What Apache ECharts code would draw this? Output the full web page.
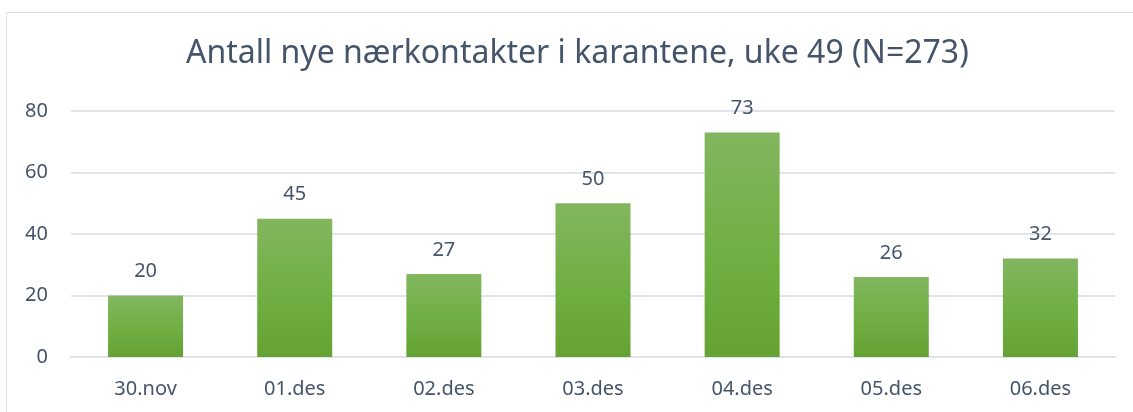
<!DOCTYPE html>
<html>
<head>
<meta charset="utf-8">
<script src="https://cdn.jsdelivr.net/npm/echarts@6/dist/echarts.min.js"></script>
<style>
  html, body { margin: 0; padding: 0; background: #fff; }
  #frame { position: absolute; left: 6px; top: 12px; width: 1140px; height: 420px; border: 1px solid #DDE1E7; box-sizing: border-box; }
  #main { position: absolute; left: 0; top: 0; width: 1133px; height: 412px; }
</style>
</head>
<body>
<div id="frame"></div>
<div id="main"></div>
<script>
var days = ['30.nov', '01.des', '02.des', '03.des', '04.des', '05.des', '06.des'];
var counts = [20, 45, 27, 50, 73, 26, 32];
var yTicks = { min: 0, max: 80, step: 20 };

var textColor = '#44546A';
var fontFam = '"Noto Sans", "Open Sans", sans-serif';

var chart = echarts.init(document.getElementById('main'));
chart.setOption({
  animation: false,
  title: {
    text: 'Antall nye nærkontakter i karantene, uke 49 (N=273)',
    left: 181,
    top: 33,
    textStyle: { color: textColor, fontSize: 32, fontWeight: 'normal', fontFamily: fontFam }
  },
  grid: { left: 71, right: 18, top: 111, bottom: 55 },
  xAxis: {
    type: 'category',
    data: days,
    axisLine: { show: true, lineStyle: { color: '#E0E4EA', width: 2 } },
    axisTick: { show: false },
    axisLabel: { color: textColor, fontSize: 20, fontFamily: fontFam, margin: 22 }
  },
  yAxis: {
    type: 'value',
    min: yTicks.min,
    max: yTicks.max,
    interval: yTicks.step,
    axisLine: { show: false },
    axisTick: { show: false },
    axisLabel: { color: textColor, fontSize: 20, fontFamily: fontFam, margin: 23 },
    splitLine: { lineStyle: { color: '#E0E4EA', width: 2 } }
  },
  series: [{
    type: 'bar',
    data: counts,
    barWidth: 75,
    itemStyle: {
      color: new echarts.graphic.LinearGradient(0, 0, 0, 1, [
        { offset: 0, color: '#82B65F' },
        { offset: 0.5, color: '#71B044' },
        { offset: 1, color: '#64A233' }
      ])
    },
    label: {
      show: true,
      position: 'top',
      distance: 14,
      color: textColor,
      fontSize: 20,
      fontFamily: fontFam
    }
  }]
});
</script>
</body>
</html>
